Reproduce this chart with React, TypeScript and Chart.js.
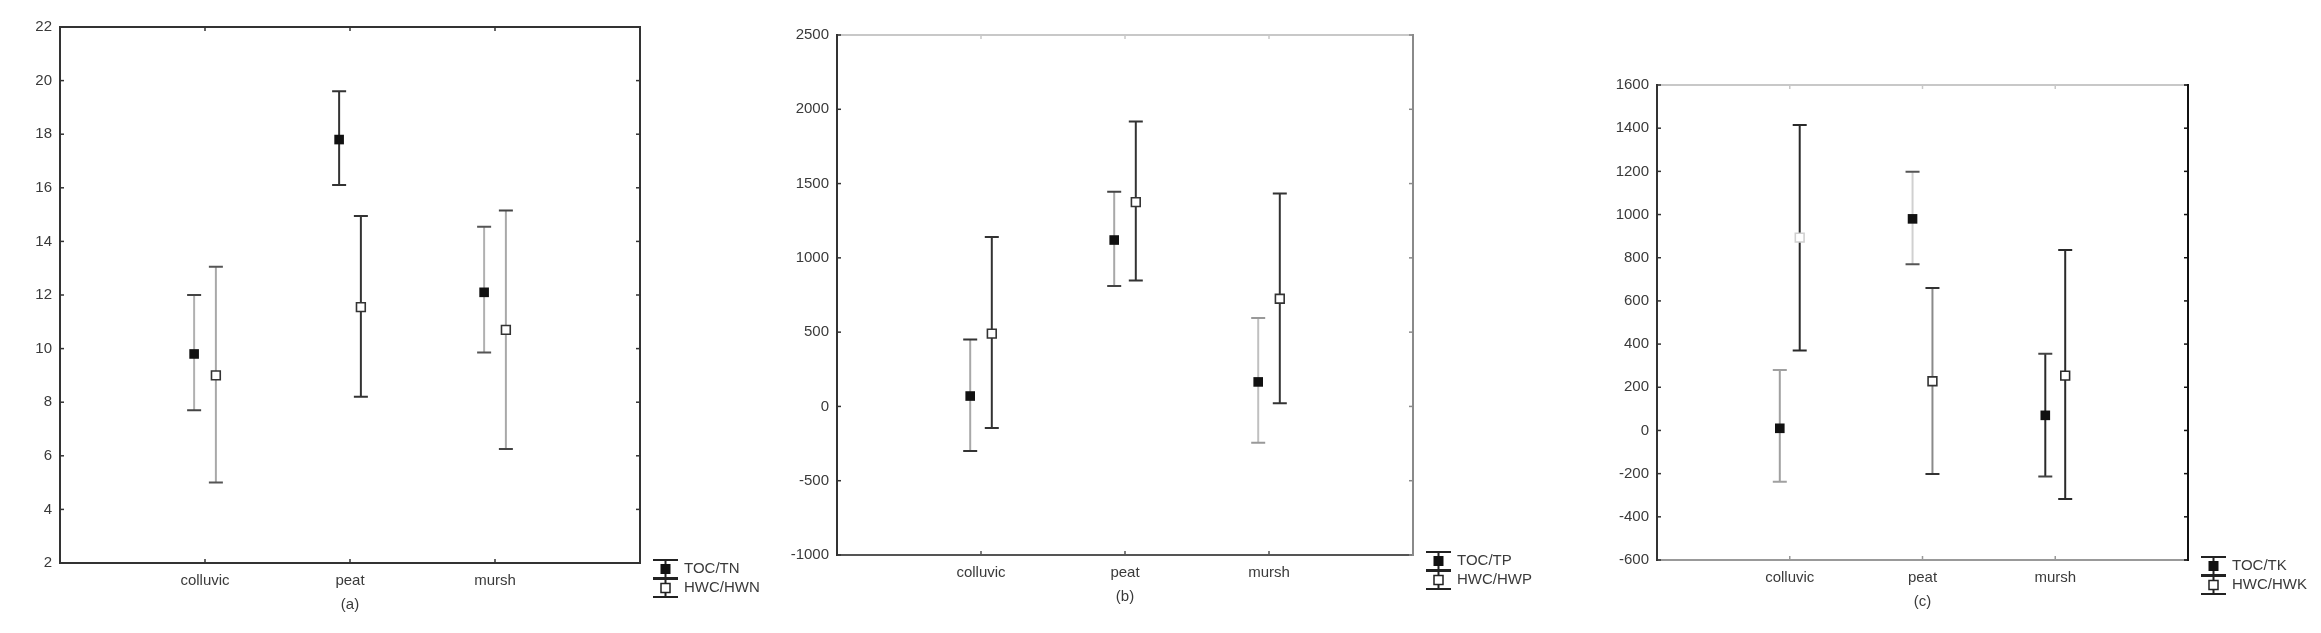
import React, { useEffect, useRef } from "react";
import { Chart, registerables } from "chart.js";

Chart.register(...registerables);

const categories = ["colluvic", "peat", "mursh"];

// Panel (a): TOC/TN and HWC/HWN
const aTocMean = [9.8, 17.8, 12.1];
const aTocLow = [7.7, 16.1, 9.85];
const aTocHigh = [12.0, 19.6, 14.55];
const aHwcMean = [9.0, 11.55, 10.7];
const aHwcLow = [5.0, 8.2, 6.25];
const aHwcHigh = [13.05, 14.95, 15.15];
const aTicks = [2, 4, 6, 8, 10, 12, 14, 16, 18, 20, 22];

// Panel (b): TOC/TP and HWC/HWP
const bTocMean = [70, 1120, 165];
const bTocLow = [-300, 810, -245];
const bTocHigh = [450, 1445, 595];
const bHwcMean = [490, 1375, 725];
const bHwcLow = [-145, 848, 22];
const bHwcHigh = [1140, 1918, 1433];
const bTicks = [-1000, -500, 0, 500, 1000, 1500, 2000, 2500];

// Panel (c): TOC/TK and HWC/HWK
const cTocMean = [10, 980, 70];
const cTocLow = [-237, 770, -213];
const cTocHigh = [280, 1198, 355];
const cHwcMean = [893, 228, 254];
const cHwcLow = [370, -202, -318];
const cHwcHigh = [1415, 660, 836];
const cTicks = [-600, -400, -200, 0, 200, 400, 600, 800, 1000, 1200, 1400, 1600];

const FONT = "'Liberation Sans', Arial, sans-serif";
const TEXT = "#3a3a3a";
const H = 633;

type Series = { label: string; mean: number[]; low: number[]; high: number[] };
type Panel = {
  tag: string;
  left: number;
  width: number;
  plotLeft: number;
  plotRight: number;
  plotTop: number;
  plotBottom: number;
  ticks: number[];
  toc: Series;
  hwc: Series;
  tocWhisker: string[];
  tocCap: string[];
  hwcWhisker: string[];
  hwcCap: string[];
  hwcMarker: string[];
  borders: { top: string; right: string; bottom: string; left: string };
};

const panels: Panel[] = [
  {
    tag: "(a)",
    left: 0,
    width: 770,
    plotLeft: 60,
    plotRight: 640,
    plotTop: 27,
    plotBottom: 563,
    ticks: aTicks,
    toc: { label: "TOC/TN", mean: aTocMean, low: aTocLow, high: aTocHigh },
    hwc: { label: "HWC/HWN", mean: aHwcMean, low: aHwcLow, high: aHwcHigh },
    tocWhisker: ["#b0b0b0", "#333333", "#b0b0b0"],
    tocCap: ["#444444", "#333333", "#555555"],
    hwcWhisker: ["#a8a8a8", "#333333", "#a8a8a8"],
    hwcCap: ["#555555", "#333333", "#444444"],
    hwcMarker: ["#333333", "#333333", "#333333"],
    borders: { top: "#333333", right: "#333333", bottom: "#333333", left: "#333333" },
  },
  {
    tag: "(b)",
    left: 770,
    width: 780,
    plotLeft: 837,
    plotRight: 1413,
    plotTop: 35,
    plotBottom: 555,
    ticks: bTicks,
    toc: { label: "TOC/TP", mean: bTocMean, low: bTocLow, high: bTocHigh },
    hwc: { label: "HWC/HWP", mean: bHwcMean, low: bHwcLow, high: bHwcHigh },
    tocWhisker: ["#a8a8a8", "#a8a8a8", "#c0c0c0"],
    tocCap: ["#333333", "#444444", "#999999"],
    hwcWhisker: ["#333333", "#333333", "#333333"],
    hwcCap: ["#333333", "#333333", "#333333"],
    hwcMarker: ["#333333", "#333333", "#333333"],
    borders: { top: "#c8c8c8", right: "#8a8a8a", bottom: "#555555", left: "#333333" },
  },
  {
    tag: "(c)",
    left: 1550,
    width: 771,
    plotLeft: 1657,
    plotRight: 2188,
    plotTop: 85,
    plotBottom: 560,
    ticks: cTicks,
    toc: { label: "TOC/TK", mean: cTocMean, low: cTocLow, high: cTocHigh },
    hwc: { label: "HWC/HWK", mean: cHwcMean, low: cHwcLow, high: cHwcHigh },
    tocWhisker: ["#a0a0a0", "#d0d0d0", "#2a2a2a"],
    tocCap: ["#a0a0a0", "#555555", "#444444"],
    hwcWhisker: ["#2a2a2a", "#8a8a8a", "#2a2a2a"],
    hwcCap: ["#2a2a2a", "#333333", "#2a2a2a"],
    hwcMarker: ["#d0d0d0", "#333333", "#2a2a2a"],
    borders: { top: "#c8c8c8", right: "#111111", bottom: "#999999", left: "#333333" },
  },
];

const OFFSET = 0.075;

function buildChart(canvas: HTMLCanvasElement, p: Panel) {
  const pos = (i: number, d: number) => i + 1 + d;
  const tocPoints = p.toc.mean.map((m, i) => ({ x: pos(i, -OFFSET), y: m }));
  const hwcPoints = p.hwc.mean.map((m, i) => ({ x: pos(i, OFFSET), y: m }));

  const errorBars = {
    id: "errorBars" + p.tag,
    beforeDatasetsDraw(chart: any) {
      const { ctx, scales } = chart;
      const xs = scales.x;
      const ys = scales.y;
      const draw = (s: Series, d: number, wc: string[], cc: string[]) => {
        s.mean.forEach((_, i) => {
          const x = xs.getPixelForValue(pos(i, d));
          const yl = ys.getPixelForValue(s.low[i]);
          const yh = ys.getPixelForValue(s.high[i]);
          ctx.save();
          ctx.lineWidth = 2;
          ctx.strokeStyle = wc[i];
          ctx.beginPath();
          ctx.moveTo(x, yl);
          ctx.lineTo(x, yh);
          ctx.stroke();
          ctx.strokeStyle = cc[i];
          ctx.beginPath();
          ctx.moveTo(x - 7, yl);
          ctx.lineTo(x + 7, yl);
          ctx.moveTo(x - 7, yh);
          ctx.lineTo(x + 7, yh);
          ctx.stroke();
          ctx.restore();
        });
      };
      draw(p.toc, -OFFSET, p.tocWhisker, p.tocCap);
      draw(p.hwc, OFFSET, p.hwcWhisker, p.hwcCap);
    },
  };

  const frame = {
    id: "frame" + p.tag,
    afterDraw(chart: any) {
      const { ctx, chartArea, scales } = chart;
      const { left, right, top, bottom } = chartArea;
      ctx.save();
      ctx.lineWidth = 2;
      const side = (c: string, x1: number, y1: number, x2: number, y2: number) => {
        ctx.strokeStyle = c;
        ctx.beginPath();
        ctx.moveTo(x1, y1);
        ctx.lineTo(x2, y2);
        ctx.stroke();
      };
      side(p.borders.top, left - 1, top, right + 1, top);
      side(p.borders.bottom, left - 1, bottom, right + 1, bottom);
      side(p.borders.left, left, top - 1, left, bottom + 1);
      side(p.borders.right, right, top - 1, right, bottom + 1);
      // inner tick marks
      ctx.lineWidth = 1.5;
      scales.y.ticks.forEach((t: any) => {
        const y = scales.y.getPixelForValue(t.value);
        side(p.borders.left, left, y, left + 4, y);
        side(p.borders.right, right, y, right - 4, y);
      });
      scales.x.ticks.forEach((t: any) => {
        const x = scales.x.getPixelForValue(t.value);
        side(p.borders.bottom, x, bottom, x, bottom - 4);
        side(p.borders.top, x, top, x, top + 4);
      });
      // panel tag
      ctx.fillStyle = TEXT;
      ctx.font = "15px " + FONT;
      ctx.textAlign = "center";
      ctx.textBaseline = "middle";
      ctx.fillText(p.tag, (left + right) / 2, bottom + 42);
      // legend
      const lx = right + 13;
      const items = [
        { s: p.toc, filled: true },
        { s: p.hwc, filled: false },
      ];
      items.forEach((it, k) => {
        const yc = bottom + 6 + k * 19;
        ctx.strokeStyle = "#222222";
        ctx.lineWidth = 2;
        ctx.beginPath();
        ctx.moveTo(lx, yc - 9);
        ctx.lineTo(lx + 25, yc - 9);
        ctx.moveTo(lx, yc + 9);
        ctx.lineTo(lx + 25, yc + 9);
        ctx.moveTo(lx + 12.5, yc - 9);
        ctx.lineTo(lx + 12.5, yc + 9);
        ctx.stroke();
        if (it.filled) {
          ctx.fillStyle = "#111111";
          ctx.fillRect(lx + 7.5, yc - 5, 10, 10);
        } else {
          ctx.fillStyle = "#ffffff";
          ctx.fillRect(lx + 8, yc - 4.5, 9, 9);
          ctx.lineWidth = 1.5;
          ctx.strokeRect(lx + 8, yc - 4.5, 9, 9);
        }
        ctx.fillStyle = TEXT;
        ctx.font = "15px " + FONT;
        ctx.textAlign = "left";
        ctx.textBaseline = "middle";
        ctx.fillText(it.s.label, lx + 31, yc);
      });
      ctx.restore();
    },
  };

  return new Chart(canvas, {
    type: "scatter",
    data: {
      datasets: [
        {
          label: p.toc.label,
          data: tocPoints,
          pointStyle: "rect",
          pointRadius: 6.8,
          backgroundColor: "#111111",
          borderColor: "#111111",
          pointBorderWidth: 0,
        },
        {
          label: p.hwc.label,
          data: hwcPoints,
          pointStyle: "rect",
          pointRadius: 6.2,
          pointBackgroundColor: "#ffffff",
          pointBorderColor: p.hwcMarker,
          pointBorderWidth: 1.6,
        },
      ],
    },
    options: {
      animation: false,
      responsive: false,
      maintainAspectRatio: false,
      layout: {
        padding: {
          left: 0,
          top: p.plotTop,
          right: p.left + p.width - p.plotRight,
          bottom: 0,
        },
      },
      plugins: {
        legend: { display: false },
        tooltip: { enabled: false },
      },
      scales: {
        x: {
          type: "linear",
          min: 0,
          max: 4,
          grid: { display: false, drawTicks: false },
          border: { display: false },
          afterBuildTicks: (s: any) => {
            s.ticks = categories.map((_, i) => ({ value: i + 1 }));
          },
          afterFit: (s: any) => {
            s.height = H - p.plotBottom;
          },
          ticks: {
            padding: 9,
            color: TEXT,
            font: { family: FONT, size: 15 },
            callback: (v: any) => categories[Math.round(Number(v)) - 1] ?? "",
          },
        },
        y: {
          type: "linear",
          min: p.ticks[0],
          max: p.ticks[p.ticks.length - 1],
          grid: { display: false, drawTicks: false },
          border: { display: false },
          afterBuildTicks: (s: any) => {
            s.ticks = p.ticks.map((v) => ({ value: v }));
          },
          afterFit: (s: any) => {
            s.width = p.plotLeft - p.left;
          },
          ticks: {
            padding: 8,
            color: TEXT,
            font: { family: FONT, size: 15 },
            callback: (v: any) => String(v),
          },
        },
      },
    },
    plugins: [errorBars, frame],
  } as any);
}

function PanelChart({ p }: { p: Panel }) {
  const ref = useRef<HTMLCanvasElement | null>(null);
  useEffect(() => {
    if (!ref.current) return;
    const chart = buildChart(ref.current, p);
    return () => chart.destroy();
  }, [p]);
  return (
    <canvas
      ref={ref}
      width={p.width}
      height={H}
      style={{ position: "absolute", left: p.left, top: 0, width: p.width, height: H }}
    />
  );
}

export default function App() {
  return (
    <div
      style={{
        position: "fixed",
        left: 0,
        top: 0,
        width: 2321,
        height: H,
        background: "#ffffff",
        overflow: "hidden",
      }}
    >
      {panels.map((p) => (
        <PanelChart key={p.tag} p={p} />
      ))}
    </div>
  );
}
